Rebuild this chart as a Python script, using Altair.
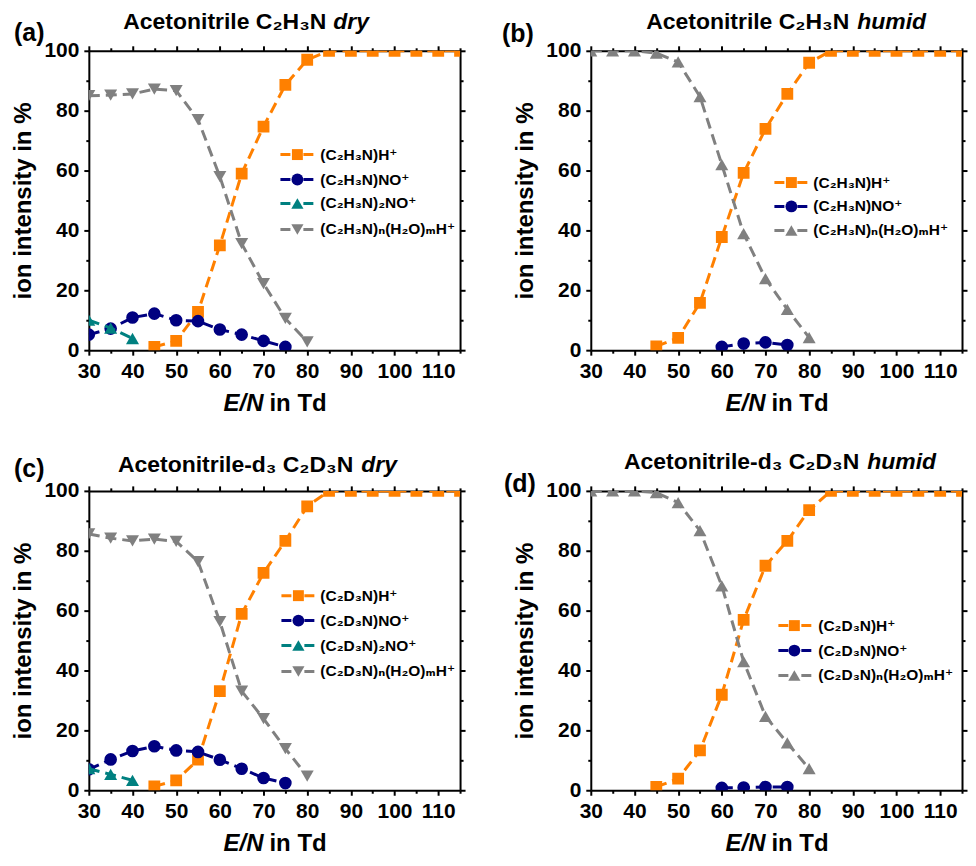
import altair as alt
import pandas as pd

FONT = "Liberation Sans, Arial, DejaVu Sans, sans-serif"
PW, PH = 372, 300

# ---------------- data ----------------
EN_H = [45, 50, 55, 60, 65, 70, 75, 80, 85, 90, 95, 100, 105, 110, 115]
EN_NO_dry = [30, 35, 40, 45, 50, 55, 60, 65, 70, 75]
EN_NO_humid = [60, 65, 70, 75]
EN_2NO = [30, 35, 40]
EN_W = [30, 35, 40, 45, 50, 55, 60, 65, 70, 75, 80]

# (a) C2H3N dry
a_H = [1.1, 3.1, 12.8, 35.0, 59.0, 74.7, 88.6, 97.0, 100, 100, 100, 100, 100, 100, 100]
a_NO = [5.2, 7.2, 10.9, 12.2, 10.0, 9.7, 6.9, 5.2, 3.1, 1.1]
a_2NO = [10.0, 7.4, 3.9]
a_W = [85.0, 85.2, 85.6, 87.2, 86.7, 77.0, 58.0, 35.6, 22.2, 10.6, 2.8]

# (b) C2H3N humid
b_H = [1.3, 4.1, 15.8, 37.8, 59.2, 73.9, 85.6, 96.0, 100, 100, 100, 100, 100, 100, 100]
b_NO = [1.1, 2.2, 2.6, 1.7]
b_W = [100, 100, 100, 99.2, 96.3, 84.7, 62.0, 38.9, 23.9, 13.6, 4.2]

# (c) C2D3N dry
c_H = [1.3, 3.3, 10.2, 33.1, 58.9, 72.6, 83.3, 94.8, 100, 100, 100, 100, 100, 100, 100]
c_NO = [7.0, 10.3, 13.1, 14.7, 13.3, 12.8, 10.2, 7.2, 4.1, 2.4]
c_2NO = [7.2, 5.3, 3.3]
c_W = [85.6, 84.2, 83.3, 83.9, 83.1, 76.4, 56.3, 33.1, 23.9, 13.9, 4.7]

# (d) C2D3N humid
d_H = [1.1, 3.9, 13.3, 31.9, 56.9, 75.0, 83.3, 93.6, 100, 100, 100, 100, 100, 100, 100]
d_NO = [0.8, 0.9, 1.1, 1.1]
d_W = [100, 100, 100, 99.4, 96.1, 86.7, 68.3, 43.0, 24.7, 15.8, 7.2]

names_H3 = ["(C₂H₃N)H⁺", "(C₂H₃N)NO⁺", "(C₂H₃N)₂NO⁺", "(C₂H₃N)ₙ(H₂O)ₘH⁺"]
names_D3 = ["(C₂D₃N)H⁺", "(C₂D₃N)NO⁺", "(C₂D₃N)₂NO⁺", "(C₂D₃N)ₙ(H₂O)ₘH⁺"]

titles_bold = ["Acetonitrile C₂H₃N", "Acetonitrile C₂H₃N", "Acetonitrile-d₃ C₂D₃N", "Acetonitrile-d₃ C₂D₃N"]
titles_italic = ["dry", "humid", "dry", "humid"]
letters = ["(a)", "(b)", "(c)", "(d)"]
y_title = "ion intensity in %"
x_title_italic = "E/N"
x_title_rest = "in Td"

ORANGE, NAVY, TEAL, GRAY = "#FF8000", "#000080", "#008080", "#808080"

xs = alt.Scale(domain=[30, 115], nice=False, zero=False)
ys = alt.Scale(domain=[0, 100], nice=False, zero=False)
XVALS = list(range(30, 116, 5))
YVALS = list(range(0, 101, 10))
XTICK = {"condition": {"test": "datum.value % 10 === 0", "value": 5}, "value": 3}
YTICK = {"condition": {"test": "datum.value % 20 === 0", "value": 5}, "value": 3}

SIZES = {"square": 140, "circle": 160, "triangle-up": 170, "triangle-down": 170}


def axis_layers(df):
    main = alt.Chart(df).mark_point(opacity=0).encode(
        x=alt.X("x:Q", scale=xs, axis=alt.Axis(
            orient="bottom", values=XVALS, tickSize=XTICK, title=None,
            labelExpr="datum.value % 10 === 0 ? datum.label : ''",
            labelFlush=False, labelOverlap=False, labelPadding=5)),
        y=alt.Y("y:Q", scale=ys, axis=alt.Axis(
            orient="left", values=YVALS, tickSize=YTICK, title=y_title,
            labelExpr="datum.value % 20 === 0 ? datum.label : ''",
            labelFlush=False, labelOverlap=False, labelPadding=5, titlePadding=8)),
    )
    second = alt.Chart(df).mark_point(opacity=0).encode(
        x=alt.X("x:Q", scale=xs, axis=alt.Axis(
            orient="top", values=XVALS, tickSize=XTICK, labels=False, title=None)),
        y=alt.Y("y:Q", scale=ys, axis=alt.Axis(
            orient="right", values=YVALS, tickSize=YTICK, labels=False, title=None)),
    )
    return [main, second]


def series(xv, yv, color, shape):
    df = pd.DataFrame({"x": xv, "y": yv})
    base = alt.Chart(df).encode(
        x=alt.X("x:Q", scale=xs, axis=None),
        y=alt.Y("y:Q", scale=ys, axis=None),
    )
    line = base.mark_line(color=color, strokeWidth=3, strokeDash=[11, 6], clip=True)
    pts = base.mark_point(shape=shape, filled=True, color=color, opacity=1,
                          size=SIZES[shape], clip=True)
    return [line, pts]


def legend_entry(xm, x0, x1, xt, y, color, shape, label):
    d = pd.DataFrame({"label": [label]})
    rule = alt.Chart(d).mark_rule(color=color, strokeWidth=3, strokeDash=[10, 13]).encode(
        x=alt.value(x0), x2=alt.value(x1), y=alt.value(y))
    pt = alt.Chart(d).mark_point(shape=shape, filled=True, color=color, opacity=1,
                                 size=SIZES[shape] - 20).encode(x=alt.value(xm), y=alt.value(y))
    txt = alt.Chart(d).mark_text(align="left", baseline="middle", font=FONT, fontSize=15.5,
                                 fontWeight="bold", color="black").encode(
        x=alt.value(xt), y=alt.value(y), text="label:N")
    return [rule, pt, txt]


def text_at(label, x, y, align, size, italic=False):
    d = pd.DataFrame({"t": [label]})
    kw = dict(align=align, baseline="middle", font=FONT, fontSize=size,
              fontWeight="bold", color="black")
    if italic:
        kw["fontStyle"] = "italic"
    return alt.Chart(d).mark_text(**kw).encode(x=alt.value(x), y=alt.value(y), text="t:N")


def panel(idx, series_specs, leg, title_pos, letter_pos):
    all_x, all_y = [], []
    for xv, yv, _, _, _ in series_specs:
        all_x += xv
        all_y += yv
    layers = axis_layers(pd.DataFrame({"x": all_x, "y": all_y}))
    for xv, yv, color, shape, _ in series_specs:
        layers += series(xv, yv, color, shape)
    xm, x0, x1, xt, rows = leg
    for (xv, yv, color, shape, name), ry in zip(series_specs, rows):
        layers += legend_entry(xm, x0, x1, xt, ry, color, shape, name)
    bx, ix, ty = title_pos
    layers.append(text_at(titles_bold[idx], bx, ty, "right", 23))
    layers.append(text_at(titles_italic[idx], ix, ty, "left", 23, italic=True))
    layers.append(text_at(letters[idx], letter_pos[0], letter_pos[1], "left", 25))
    layers.append(text_at(x_title_italic, 175, 354, "right", 24, italic=True))
    layers.append(text_at(x_title_rest, 181, 354, "left", 24))
    return alt.layer(*layers).resolve_axis(x="independent", y="independent").properties(
        width=PW, height=PH)


pa = panel(0, [
    (EN_H, a_H, ORANGE, "square", names_H3[0]),
    (EN_NO_dry, a_NO, NAVY, "circle", names_H3[1]),
    (EN_2NO, a_2NO, TEAL, "triangle-up", names_H3[2]),
    (EN_W, a_W, GRAY, "triangle-down", names_H3[3]),
], (209, 192, 225, 232, [104, 129, 153, 179]), (238, 245, -28.5), (-75, -18))

pb = panel(1, [
    (EN_H, b_H, ORANGE, "square", names_H3[0]),
    (EN_NO_humid, b_NO, NAVY, "circle", names_H3[1]),
    (EN_W, b_W, GRAY, "triangle-up", names_H3[3]),
], (201, 184, 217, 223, [132, 156, 180]), (259, 267, -28.5), (-89, -17))

pc = panel(2, [
    (EN_H, c_H, ORANGE, "square", names_D3[0]),
    (EN_NO_dry, c_NO, NAVY, "circle", names_D3[1]),
    (EN_2NO, c_2NO, TEAL, "triangle-up", names_D3[2]),
    (EN_W, c_W, GRAY, "triangle-down", names_D3[3]),
], (210, 193, 226, 232, [105, 130, 155, 181]), (265, 273, -26), (-75, -22))

pd_ = panel(3, [
    (EN_H, d_H, ORANGE, "square", names_D3[0]),
    (EN_NO_humid, d_NO, NAVY, "circle", names_D3[1]),
    (EN_W, d_W, GRAY, "triangle-up", names_D3[3]),
], (204, 188, 221, 228, [135, 160, 185]), (269, 277, -29), (-87, -7))

chart = alt.concat(
    pa, pb, pc, pd_, columns=2, spacing={"row": 141, "column": 131}, bounds="flush"
).properties(
    padding={"left": 3, "top": 2, "right": 0, "bottom": 0}
).configure_view(strokeWidth=0).configure_axis(
    domainColor="black", domainWidth=2, tickColor="black", tickWidth=2,
    labelFont=FONT, labelFontSize=21, labelFontWeight="bold", labelColor="black",
    titleFont=FONT, titleFontSize=24, titleFontWeight="bold", titleColor="black",
    grid=False,
)

chart.save("out.html", embed_options={"renderer": "svg", "actions": False})
